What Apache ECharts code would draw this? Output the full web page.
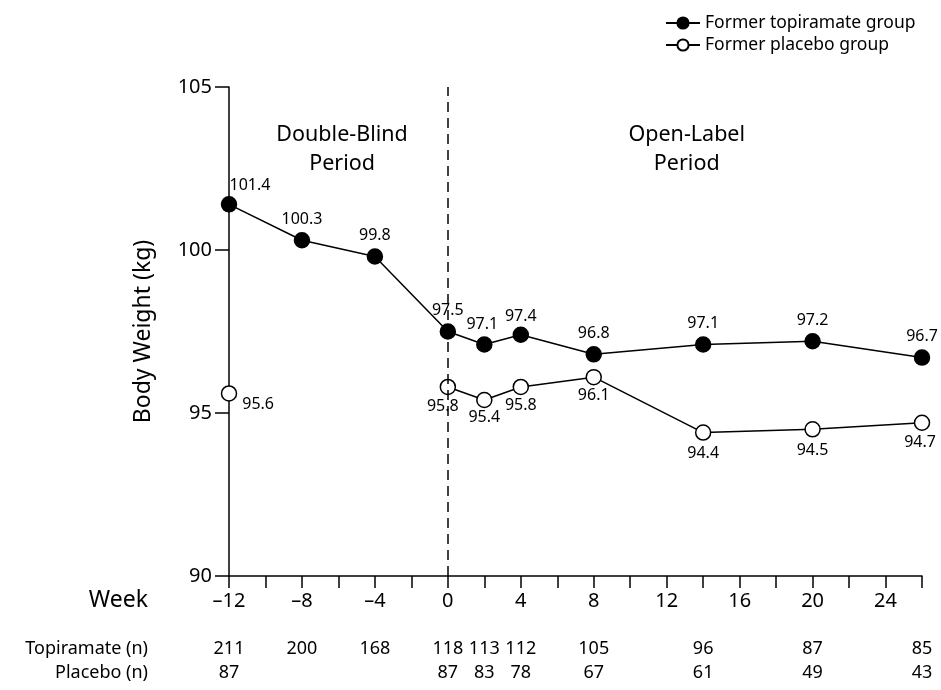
<!DOCTYPE html>
<html>
<head>
<meta charset="utf-8">
<script src="https://cdn.jsdelivr.net/npm/echarts@6/dist/echarts.min.js"></script>
<style>
  html, body { margin: 0; padding: 0; background: #fff; }
  #chart { width: 941px; height: 690px; }
</style>
</head>
<body>
<div id="chart"></div>
<script>
// Study weeks at which body weight was recorded
const weeks = [-12, -8, -4, 0, 2, 4, 8, 14, 20, 26];
// Mean body weight (kg) per group; '-' where no measurement exists
const topiramateWeight = [101.4, 100.3, 99.8, 97.5, 97.1, 97.4, 96.8, 97.1, 97.2, 96.7];
const placeboWeight = [95.6, '-', '-', 95.8, 95.4, 95.8, 96.1, 94.4, 94.5, 94.7];
// Number of patients at each week
const topiramateN = [211, 200, 168, 118, 113, 112, 105, 96, 87, 85];
const placeboN = [87, '', '', 87, 83, 78, 67, 61, 49, 43];
// Weeks carrying a printed tick label
const weekTickLabels = [-12, -8, -4, 0, 4, 8, 12, 16, 20, 24];

const FONT = 'Noto Sans';

// Per-point label placement (index into weeks)
const topLabelStyle = {
  0: { position: 'top', offset: [21, 2] },
  4: { position: 'top', offset: [-2, 1] },
  5: { position: 'top', offset: [0, 3] }
};
const placeboLabelStyle = {
  0: { position: 'right', offset: [0, 11] },
  3: { position: 'bottom', offset: [-5, -2] },
  4: { position: 'bottom', offset: [0, -4] },
  5: { position: 'bottom', offset: [0, -3] },
  6: { position: 'bottom', offset: [0, -3] },
  9: { position: 'bottom', offset: [-2, -2] }
};

function buildData(values, styles, defaultPos) {
  return weeks.map((w, i) => {
    const v = values[i];
    const item = { value: [w, v] };
    const s = styles[i] || {};
    item.label = {
      position: s.position || defaultPos,
      offset: s.offset || [0, 0]
    };
    return item;
  });
}

function nFormatter(nArr) {
  return function (val) {
    const i = weeks.indexOf(val);
    return i >= 0 ? String(nArr[i]) : '';
  };
}

const chart = echarts.init(document.getElementById('chart'));

const baseX = {
  type: 'value',
  min: -12,
  max: 26,
  interval: 2,
  position: 'bottom',
  splitLine: { show: false }
};

const option = {
  backgroundColor: '#fff',
  textStyle: { fontFamily: FONT, color: '#000' },
  animation: false,
  legend: {
    orient: 'vertical',
    left: 660,
    top: 9,
    itemGap: 4,
    itemWidth: 34,
    itemHeight: 14,
    textStyle: { fontFamily: FONT, fontSize: 17.5, color: '#000' },
    data: ['Former topiramate group', 'Former placebo group']
  },
  grid: { left: 229, right: 19, top: 87, bottom: 114, containLabel: false },
  xAxis: [
    Object.assign({}, baseX, {
      axisLine: { show: true, onZero: false, lineStyle: { color: '#000', width: 1.5 } },
      axisTick: { show: true, inside: false, length: 12, lineStyle: { color: '#000', width: 1.5 } },
      axisLabel: {
        margin: 15,
        fontFamily: FONT,
        fontSize: 20,
        color: '#000',
        formatter: function (v) {
          if (weekTickLabels.indexOf(v) < 0) return '';
          return v < 0 ? '\u2013' + Math.abs(v) : String(v);
        }
      }
    }),
    Object.assign({}, baseX, {
      offset: 64,
      axisLine: { show: false, onZero: false },
      axisTick: { show: false },
      axisLabel: { margin: 0, fontFamily: FONT, fontSize: 18, color: '#000', formatter: nFormatter(topiramateN) }
    }),
    Object.assign({}, baseX, {
      offset: 88,
      axisLine: { show: false, onZero: false },
      axisTick: { show: false },
      axisLabel: { margin: 0, fontFamily: FONT, fontSize: 18, color: '#000', formatter: nFormatter(placeboN) }
    })
  ],
  yAxis: {
    type: 'value',
    min: 90,
    max: 105,
    interval: 5,
    name: 'Body Weight (kg)',
    nameLocation: 'middle',
    nameGap: 74,
    nameTextStyle: { fontFamily: FONT, fontSize: 23, color: '#000' },
    axisLine: { show: true, onZero: false, lineStyle: { color: '#000', width: 1.5 } },
    axisTick: { show: true, inside: false, length: 14, lineStyle: { color: '#000', width: 1.5 } },
    axisLabel: { margin: 17, fontFamily: FONT, fontSize: 20, color: '#000' },
    splitLine: { show: false }
  },
  graphic: [
    {
      type: 'text',
      right: 941 - 148,
      top: 589,
      style: { text: 'Week', fontFamily: FONT, fontSize: 23, fill: '#000', textAlign: 'right' }
    },
    {
      type: 'text',
      right: 941 - 148,
      top: 640,
      style: { text: 'Topiramate (n)', fontFamily: FONT, fontSize: 18, fill: '#000', textAlign: 'right' }
    },
    {
      type: 'text',
      right: 941 - 148,
      top: 664,
      style: { text: 'Placebo (n)', fontFamily: FONT, fontSize: 18, fill: '#000', textAlign: 'right' }
    }
  ],
  series: [
    {
      name: 'Former topiramate group',
      type: 'line',
      xAxisIndex: 0,
      data: buildData(topiramateWeight, topLabelStyle, 'top'),
      symbol: 'circle',
      symbolSize: 15,
      itemStyle: { color: '#000', borderColor: '#000', borderWidth: 1.5 },
      lineStyle: { color: '#000', width: 1.5 },
      label: {
        show: true,
        distance: 5,
        fontFamily: FONT,
        fontSize: 16,
        color: '#000',
        formatter: p => p.value[1].toFixed(1)
      },
      markLine: {
        silent: true,
        symbol: 'none',
        label: { show: false },
        lineStyle: { color: '#000', type: [10, 6], width: 1.5 },
        data: [{ xAxis: 0 }]
      },
      markPoint: {
        symbol: 'circle',
        symbolSize: 0,
        silent: true,
        label: {
          show: true,
          position: 'inside',
          fontFamily: FONT,
          fontSize: 21.5,
          lineHeight: 29,
          color: '#000',
          formatter: p => p.name
        },
        data: [
          { name: 'Double-Blind\nPeriod', coord: [-5.8, 103.1] },
          { name: 'Open-Label\nPeriod', coord: [13.1, 103.1] }
        ]
      },
      z: 3
    },
    {
      name: 'Former placebo group',
      type: 'line',
      xAxisIndex: 0,
      data: buildData(placeboWeight, placeboLabelStyle, 'bottom'),
      connectNulls: false,
      symbol: 'circle',
      symbolSize: 15,
      itemStyle: { color: '#fff', borderColor: '#000', borderWidth: 1.5 },
      lineStyle: { color: '#000', width: 1.5 },
      label: {
        show: true,
        distance: 5,
        fontFamily: FONT,
        fontSize: 16,
        color: '#000',
        formatter: p => (typeof p.value[1] === 'number' ? p.value[1].toFixed(1) : '')
      },
      z: 3
    }
  ]
};

chart.setOption(option);
</script>
</body>
</html>
